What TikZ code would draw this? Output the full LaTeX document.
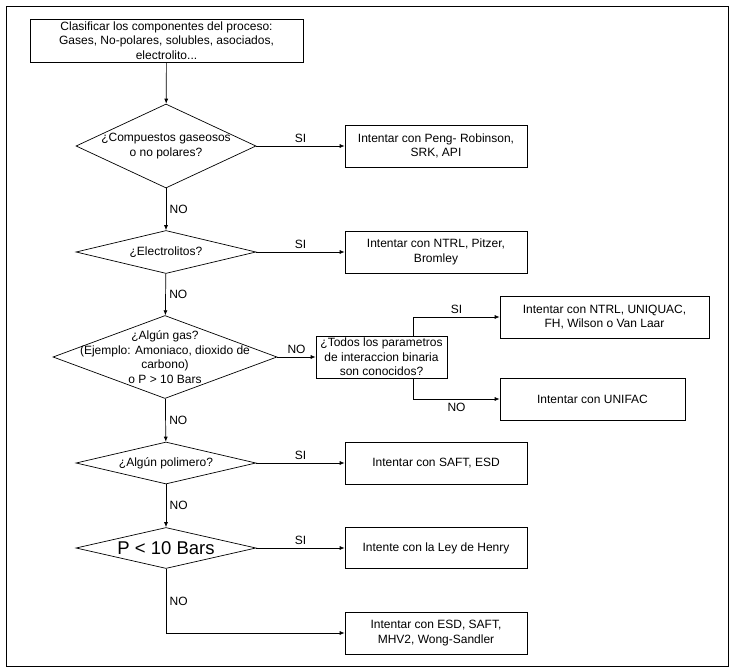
\documentclass[tikz,border=0pt]{standalone}
\usepackage{fontspec}
\setmainfont{Liberation Sans}
\usetikzlibrary{shapes.geometric,arrows.meta}
\begin{document}
\begin{tikzpicture}[x=1pt,y=-1pt,line width=0.7pt,
				>={Latex[length=5pt,width=4pt]},
				font=\fontsize{12}{14.5}\selectfont,
				caja/.style={draw,rectangle,align=center,inner sep=2pt,minimum width=182,minimum height=42},
				rombo/.style={draw,diamond,inner sep=0pt,minimum width=180},
				texto/.style={align=center,inner sep=0pt}]
				\useasboundingbox (0,0) rectangle (736,669);
				\draw (6,6) rectangle (728,666);
				\node[caja,minimum width=273,minimum height=43] (clasif) at (166.5,40.5) {Clasificar los componentes del proceso:\\Gases, No-polares, solubles, asociados,\\electrolito...};
				\node[rombo,minimum height=84,label={[texto]center:{¿Compuestos gaseosos\\o no polares?}}] (gas) at (166,146) {};
				\node[caja] (pr) at (436,146) {Intentar con Peng- Robinson,\\SRK, API};
				\node[rombo,minimum height=43,label={[texto]center:{¿Electrolitos?}}] (elec) at (166,252) {};
				\node[caja] (ntrl) at (436,252) {Intentar con NTRL, Pitzer,\\Bromley};
				\node[rombo,minimum width=224,minimum height=83,label={[texto]center:{¿Algún gas?\\(Ejemplo: Amoniaco, dioxido de\\carbono)\\o P > 10 Bars}}] (algun) at (165,357) {};
				\node[caja,minimum width=131] (todos) at (381.5,357) {¿Todos los parametros\\de interaccion binaria\\son conocidos?};
				\node[caja,minimum width=209] (uniquac) at (604.5,317) {Intentar con NTRL, UNIQUAC,\\FH, Wilson o Van Laar};
				\node[caja,minimum width=185] (unifac) at (592.5,399) {Intentar con UNIFAC};
				\node[rombo,minimum height=42,label={[texto]center:{¿Algún polimero?}}] (polim) at (166,463) {};
				\node[caja] (saft) at (436,463) {Intentar con SAFT, ESD};
				\node[rombo,minimum height=41,label={[texto,font=\fontsize{18.5}{20}\selectfont]center:{P < 10 Bars}}] (presion) at (166,548) {};
				\node[caja,minimum height=41] (henry) at (436,548) {Intente con la Ley de Henry};
				\node[caja] (esd) at (436,633) {Intentar con ESD, SAFT,\\MHV2, Wong-Sandler};
				\draw[->] (clasif) -- (gas);
				\draw[->] (gas) -- node[above]{SI} (pr);
				\draw[->] (gas) -- node[right]{NO} (elec);
				\draw[->] (elec) -- node[above]{SI} (ntrl);
				\draw[->] (elec) -- node[right]{NO} (algun);
				\draw[->] (algun) -- node[above]{NO} (todos);
				\draw[->] ([xshift=-34]todos.north east) |- node[pos=0.75,above]{SI} (uniquac);
				\draw[->] ([xshift=-34]todos.south east) |- node[pos=0.75,below]{NO} (unifac);
				\draw[->] (algun) -- node[right]{NO} (polim);
				\draw[->] (polim) -- node[above]{SI} (saft);
				\draw[->] (polim) -- node[right]{NO} (presion);
				\draw[->] (presion) -- node[above]{SI} (henry);
				\draw[->] (presion.south) |- node[pos=0.25,right]{NO} (esd);
\end{tikzpicture}
\end{document}
